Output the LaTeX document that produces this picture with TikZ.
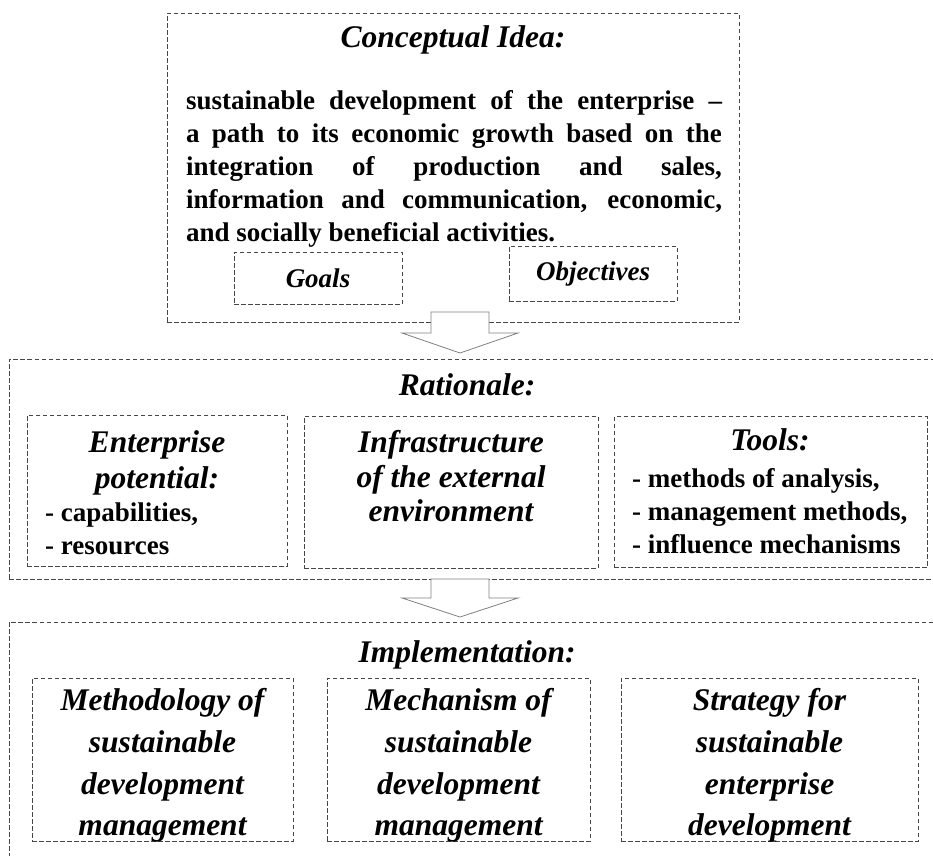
\documentclass[tikz,border=0pt]{standalone}
\usepackage{fontspec}
\setmainfont{Liberation Serif}
\usetikzlibrary{positioning,calc}
\definecolor{dashgray}{RGB}{70,70,70}
\definecolor{arrowgray}{RGB}{128,128,128}
\tikzset{
  outerbox/.style={draw=dashgray,line width=0.9pt,dash pattern=on 4.5pt off 2.5pt,inner sep=0},
  innerbox/.style={outerbox},
  bigtitle/.style={font=\fontsize{31.5}{#1}\selectfont\bfseries\itshape,align=center,inner sep=0},
  bigtitle/.default=36,
  smalltitle/.style={font=\fontsize{27}{30}\selectfont\bfseries\itshape},
  listtext/.style={font=\fontsize{27}{#1}\selectfont\bfseries,align=left,inner sep=0},
  listtext/.default=32.5,
  hollowarrow/.style={draw=arrowgray,line width=0.8pt,fill=white},
}

\begin{document}
\begin{tikzpicture}[x=1pt,y=-1pt]
\useasboundingbox (0,0) rectangle (933,855);
\clip (0,0) rectangle (933,855);

% conceptual idea
\node[outerbox,minimum width=572,minimum height=309] (idea) at (453,167.5) {};
\node[bigtitle] (ideatitle) at (453,40) {Conceptual Idea:};
\node[font=\fontsize{27}{33}\selectfont\bfseries,text width=536,align=justify,inner sep=0] (ideatext) at (454,169)
  {sustainable development of the enterprise –\linebreak
   a path to its economic growth based on the\linebreak
   integration of production and sales,\linebreak
   information and communication, economic,\linebreak
   and socially beneficial activities.};
\node[innerbox,smalltitle,minimum width=168,minimum height=52] (goals) at (318,278) {Goals};
\node[innerbox,smalltitle,minimum width=168,minimum height=55] (objectives) at (593,273.5) {Objectives};

\coordinate (tipA) at (460,353);
\draw[hollowarrow] (tipA) -- ++(58,-20) -- ++(-29,0) -- ++(0,-21) -- ++(-58,0) -- ++(0,21) -- ++(-29,0) -- cycle;

% rationale
\node[outerbox,minimum width=941,minimum height=220] (rationale) at (479.5,469) {};
\node[bigtitle] (rattitle) at (467,385) {Rationale:};

\node[innerbox,minimum width=260,minimum height=151] (potential) at (157,490.5) {};
\node[bigtitle] (pottitle) at (157,463) {Enterprise\\potential:};
\node[listtext,anchor=west] (potlist) at (45,529) {- capabilities,\\- resources};

\node[innerbox,minimum width=294,minimum height=152] (infra) at (451,492) {};
\node[bigtitle=34.5] (infratitle) at (451,476.5) {Infrastructure\\of the external\\environment};

\node[innerbox,minimum width=313,minimum height=151] (tools) at (770.5,492) {};
\node[bigtitle] (toolstitle) at (770,440) {Tools:};
\node[listtext=33,anchor=west] (toollist) at (632,511) {- methods of analysis,\\- management methods,\\- influence mechanisms};

\coordinate (tipB) at (460,617);
\draw[hollowarrow] (tipB) -- ++(58,-19) -- ++(-29,0) -- ++(0,-19) -- ++(-58,0) -- ++(0,19) -- ++(-29,0) -- cycle;

% implementation
\node[outerbox,minimum width=941,minimum height=253] (impl) at (479.5,748.5) {};
\node[bigtitle] (impltitle) at (467,655) {Implementation:};

\node[innerbox,minimum width=261,minimum height=163] (method) at (162.5,759.5) {};
\node[bigtitle=41.7] (methodtext) at (162.5,765.5) {Methodology of\\sustainable\\development\\management};

\node[innerbox,minimum width=263,minimum height=163] (mech) at (458.5,759.5) {};
\node[bigtitle=41.7] (mechtext) at (458.5,765.5) {Mechanism of\\sustainable\\development\\management};

\node[innerbox,minimum width=297,minimum height=163] (strat) at (769.5,759.5) {};
\node[bigtitle=41.7] (strattext) at (769.5,765.5) {Strategy for\\sustainable\\enterprise\\development};
\end{tikzpicture}
\end{document}
